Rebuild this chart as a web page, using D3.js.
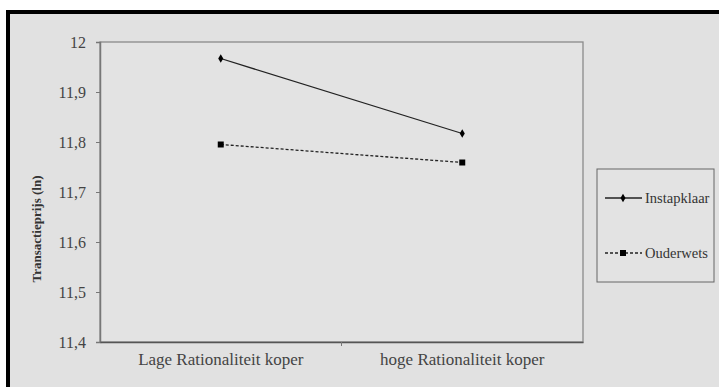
<!DOCTYPE html>
<html><head><meta charset="utf-8">
<script src="https://cdn.jsdelivr.net/npm/d3@7"></script>
<style>body{margin:0;background:#fff}svg{display:block}svg text{font-family:"Liberation Serif","Times New Roman",serif}</style>
</head><body><svg id="c" width="719" height="387"></svg>
<script>
const categories = ["Lage Rationaliteit koper", "hoge Rationaliteit koper"];
const seriesNames = ["Instapklaar", "Ouderwets"];
const instapklaar = [11.967, 11.817];
const ouderwets = [11.795, 11.759];
const yTicks = [11.4, 11.5, 11.6, 11.7, 11.8, 11.9, 12];
const yTitle = "Transactieprijs (ln)";

const svg = d3.select("#c");
const font = "Liberation Serif";
svg.append("rect").attr("x", 8).attr("y", 12).attr("width", 720).attr("height", 380)
  .attr("fill", "#e1e1e1").attr("stroke", "#000").attr("stroke-width", 4);

const L = 100, R = 583, T = 42, B = 342;
const x = d3.scaleBand().domain(categories).range([L, R]);
const y = d3.scaleLinear().domain([11.4, 12]).range([B, T]);

svg.append("rect").attr("x", L).attr("y", T).attr("width", R - L).attr("height", B - T)
  .attr("fill", "#e3e3e3").attr("stroke", "#8a8a8a").attr("stroke-width", 1.3);

const yAxis = svg.append("g").attr("transform", `translate(${L},0)`)
  .call(d3.axisLeft(y).tickValues(yTicks).tickSize(4).tickPadding(10)
    .tickFormat(d => d3.format(d === 12 ? "d" : ".1f")(d).replace(".", ",")));
yAxis.attr("font-family", font);
yAxis.select(".domain").attr("stroke", "#777").attr("stroke-width", 1.5);
yAxis.selectAll(".tick line").attr("stroke", "#777");
yAxis.selectAll("text").style("font-family", font).attr("font-size", 16).attr("fill", "#444");

const xAxis = svg.append("g").attr("transform", `translate(0,${B})`)
  .call(d3.axisBottom(x).tickSize(0).tickPadding(11));
xAxis.attr("font-family", font);
xAxis.select(".domain").attr("stroke", "#555").attr("stroke-width", 1.5);
xAxis.selectAll("text").style("font-family", font).attr("font-size", 17).attr("fill", "#444");
const sep = [L, (L + R) / 2, R];
svg.append("g").selectAll("line").data(sep.slice(1, 2)).join("line")
  .attr("x1", d => d).attr("x2", d => d).attr("y1", B).attr("y2", B + 4)
  .attr("stroke", "#777").attr("stroke-width", 1);

svg.append("text").attr("transform", `translate(41,229) rotate(-90)`)
  .attr("text-anchor", "middle").style("font-family", font).attr("font-weight", "bold")
  .attr("font-size", 13).attr("fill", "#333").text(yTitle);

const cx = d => x(d) + x.bandwidth() / 2;
const line = d3.line().x(d => cx(d[0])).y(d => y(d[1]));
const s1 = categories.map((c, i) => [c, instapklaar[i]]);
const s2 = categories.map((c, i) => [c, ouderwets[i]]);

svg.append("path").attr("d", line(s1)).attr("fill", "none").attr("stroke", "#222").attr("stroke-width", 1.3);
svg.append("path").attr("d", line(s2)).attr("fill", "none").attr("stroke", "#222").attr("stroke-width", 1.3)
  .attr("stroke-dasharray", "3,2");
const diamond = d3.symbol().type(d3.symbolDiamond).size(22);
const square = d3.symbol().type(d3.symbolSquare).size(36);
svg.append("g").selectAll("path").data(s1).join("path")
  .attr("transform", d => `translate(${cx(d[0])},${y(d[1])})`).attr("d", diamond).attr("fill", "#000");
svg.append("g").selectAll("path").data(s2).join("path")
  .attr("transform", d => `translate(${cx(d[0])},${y(d[1])})`).attr("d", square).attr("fill", "#000");

const lg = svg.append("g");
lg.append("rect").attr("x", 597).attr("y", 169).attr("width", 117).attr("height", 113)
  .attr("fill", "#e3e3e3").attr("stroke", "#666").attr("stroke-width", 1);
const ly = [198, 253];
seriesNames.forEach((n, i) => {
  lg.append("line").attr("x1", 605).attr("x2", 642).attr("y1", ly[i]).attr("y2", ly[i])
    .attr("stroke", "#222").attr("stroke-width", 1.3).attr("stroke-dasharray", i ? "3,2" : null);
  lg.append("path").attr("transform", `translate(623,${ly[i]})`).attr("d", i ? square : diamond).attr("fill", "#000");
  lg.append("text").attr("x", 645).attr("y", ly[i]).attr("dy", "0.35em")
    .style("font-family", font).attr("font-size", 14.5).attr("fill", "#333").text(n);
});
</script></body></html>
